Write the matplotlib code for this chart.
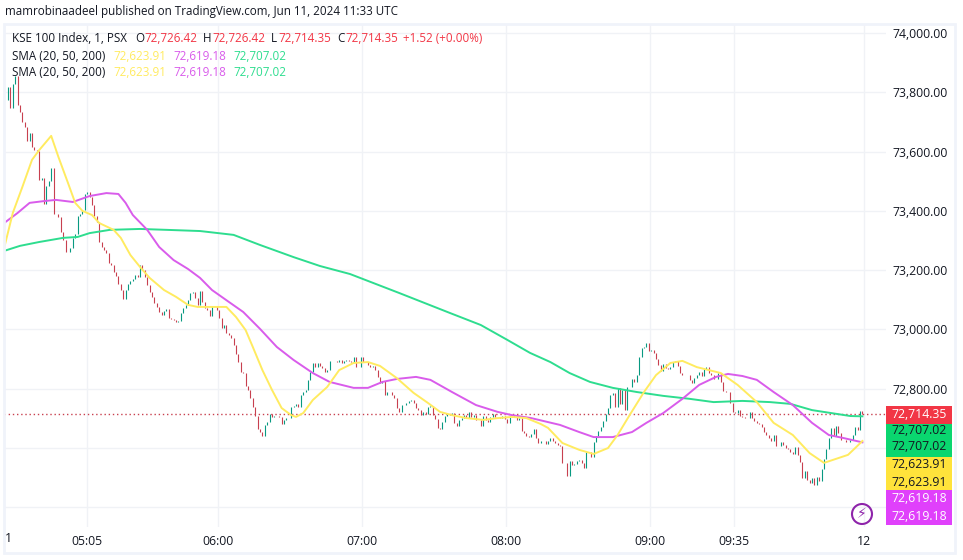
import matplotlib
matplotlib.use('Agg')
import matplotlib.pyplot as plt
from matplotlib.patches import Ellipse, Rectangle
import numpy as np

plt.rcParams['font.family'] = ['Open Sans', 'DejaVu Sans']

# 1 minute closes, minute 0 is the 04:32 open
first_open = 73774
closes = [
    73818, 73747, 73828, 73855, 73757, 73734, 73700, 73683, 73636, 73663, 73615, 73605,
    73602, 73504, 73511, 73423, 73484, 73501, 73545, 73390, 73390, 73379, 73329, 73302,
    73261, 73261, 73275, 73309, 73322, 73383, 73390, 73403, 73457, 73464, 73447, 73420,
    73383, 73363, 73295, 73278, 73268, 73258, 73224, 73217, 73194, 73180, 73153, 73133,
    73103, 73133, 73153, 73164, 73170, 73184, 73177, 73217, 73201, 73177, 73150, 73126,
    73110, 73089, 73076, 73059, 73049, 73062, 73069, 73039, 73035, 73032, 73025, 73029,
    73056, 73072, 73083, 73099, 73123, 73126, 73106, 73083, 73130, 73093, 73072, 73066,
    73045, 73079, 73079, 73066, 73039, 73005, 73015, 72988, 72981, 72971, 72948, 72917,
    72890, 72857, 72853, 72809, 72796, 72769, 72739, 72708, 72664, 72654, 72641, 72678,
    72688, 72715, 72705, 72708, 72708, 72705, 72681, 72695, 72701, 72701, 72739, 72742,
    72749, 72739, 72779, 72789, 72796, 72830, 72857, 72887, 72873, 72887, 72877, 72870,
    72857, 72863, 72894, 72894, 72894, 72890, 72897, 72887, 72894, 72897, 72894, 72890,
    72907, 72873, 72873, 72907, 72890, 72890, 72880, 72873, 72877, 72863, 72840, 72819,
    72826, 72779, 72789, 72789, 72779, 72769, 72735, 72722, 72745, 72745, 72752, 72759,
    72762, 72752, 72735, 72728, 72712, 72722, 72715, 72739, 72742, 72712, 72698, 72668,
    72664, 72688, 72708, 72715, 72712, 72718, 72685, 72674, 72695, 72701, 72712, 72701,
    72722, 72705, 72712, 72695, 72695, 72674, 72708, 72695, 72688, 72705, 72715, 72705,
    72705, 72701, 72708, 72698, 72685, 72708, 72705, 72712, 72695, 72701, 72658, 72651,
    72641, 72637, 72647, 72664, 72634, 72617, 72624, 72624, 72614, 72624, 72634, 72624,
    72617, 72610, 72607, 72550, 72550, 72506, 72556, 72543, 72546, 72556, 72560, 72550,
    72533, 72587, 72587, 72570, 72620, 72641, 72658, 72671, 72691, 72715, 72735, 72779,
    72786, 72739, 72803, 72749, 72796, 72728, 72806, 72806, 72833, 72823, 72846, 72907,
    72938, 72941, 72954, 72927, 72931, 72921, 72900, 72880, 72860, 72884, 72870, 72867,
    72873, 72890, 72894, 72877, 72853, 72846, 72846, 72846, 72830, 72819, 72836, 72846,
    72857, 72843, 72867, 72873, 72853, 72846, 72833, 72833, 72853, 72823, 72792, 72789,
    72789, 72752, 72722, 72718, 72728, 72708, 72705, 72701, 72701, 72722, 72701, 72691,
    72685, 72681, 72671, 72654, 72644, 72634, 72624, 72644, 72607, 72607, 72620, 72610,
    72600, 72597, 72587, 72580, 72604, 72577, 72553, 72499, 72523, 72492, 72482, 72499,
    72475, 72502, 72489, 72529, 72563, 72597, 72634, 72668, 72641, 72675, 72651, 72627,
    72627, 72620, 72620, 72627, 72644, 72671, 72661, 72726.42, 72714.35,
]

sma20_min = [-1.6, 2, 6, 10, 13, 18, 21, 25, 28, 31, 35, 38, 44, 47, 51, 55, 59, 65, 70, 75,
             79, 85, 91, 95, 99, 102, 106, 110, 114, 118, 120, 123, 127, 133, 138, 144, 150,
             155, 162, 169, 175, 180, 185, 191, 198, 204, 210, 216, 222, 225, 231, 238, 244,
             250, 254, 259, 265, 270, 276, 281, 287, 297, 304, 312, 319, 327, 334, 340, 350,
             353, 356]
sma20 = [73275, 73393, 73481, 73572, 73605, 73653, 73582, 73494, 73427, 73400, 73386, 73359,
         73336, 73309, 73251, 73211, 73174, 73133, 73110, 73083, 73076, 73076, 73076, 73042,
         72998, 72941, 72863, 72796, 72735, 72711, 72705, 72718, 72762, 72806, 72863, 72887,
         72890, 72877, 72836, 72786, 72752, 72722, 72711, 72701, 72695, 72701, 72705, 72701,
         72681, 72668, 72617, 72594, 72580, 72600, 72644, 72711, 72789, 72846, 72887, 72894,
         72873, 72853, 72813, 72755, 72685, 72644, 72583, 72550, 72577, 72600, 72623.91]

sma50_min = [-1.6, 4, 9, 15, 20, 27, 34, 41, 46, 49, 52, 58, 63, 69, 75, 80, 85, 92, 98, 105,
             112, 119, 127, 134, 144, 150, 156, 162, 170, 176, 185, 195, 204, 210, 218, 230,
             238, 244, 252, 260, 266, 273, 281, 288, 295, 300, 306, 312, 319, 327, 335, 342,
             348, 356]
sma50 = [73359, 73393, 73427, 73433, 73437, 73430, 73450, 73460, 73457, 73427, 73386, 73336,
         73278, 73234, 73204, 73174, 73133, 73093, 73059, 73002, 72941, 72897, 72853, 72823,
         72803, 72803, 72823, 72833, 72840, 72830, 72789, 72745, 72722, 72711, 72701, 72678,
         72654, 72637, 72637, 72654, 72685, 72718, 72766, 72813, 72840, 72850, 72843, 72830,
         72789, 72745, 72685, 72644, 72634, 72619.18]

sma200_min = [-1.6, 5, 13, 23, 29, 34, 42.5, 55, 66, 80, 94, 105, 119, 130, 142.5, 163, 184,
              197, 208, 217.5, 226, 234, 242.5, 252, 262, 273, 284, 294, 306, 317.5, 326, 335,
              351, 356]
sma200 = [73265, 73282, 73295, 73309, 73312, 73325, 73336, 73339, 73336, 73332, 73319, 73285,
          73244, 73214, 73187, 73123, 73056, 73015, 72965, 72921, 72890, 72853, 72823, 72803,
          72789, 72776, 72766, 72755, 72759, 72755, 72749, 72728, 72708, 72707.02]

time_ticks = [0, 33, 87.5, 147.5, 207.5, 267.5, 302.5, 356.5]
time_labels = ['1', '05:05', '06:00', '07:00', '08:00', '09:00', '09:35', '12']
price_ticks = [72400, 72600, 72800, 73000, 73200, 73400, 73600, 73800, 74000]
price_labels = ['', '', '72,800.00', '73,000.00', '73,200.00', '73,400.00', '73,600.00',
                '73,800.00', '74,000.00']

RED = '#F23645'
TEAL = '#089981'
YELLOW = '#FFEB60'
MAGENTA = '#D95CEB'
GREEN = '#2EDD8F'
TEXT = '#131722'
W, H = 963, 560
LEG = 8.4


def fx(x):
    return x / W


def fy(y):
    return 1 - y / H


fig = plt.figure(figsize=(W / 100, H / 100), dpi=100)
ax = fig.add_axes([fx(4), fy(527), fx(882), 503 / H])

# candles, one thin bar per minute
xs = np.arange(len(closes))
opens = np.r_[first_open, closes[:-1]]
closes_arr = np.array(closes)
bar_colors = [TEAL if c >= o else '#C8404F' for o, c in zip(opens, closes_arr)]
ax.vlines(xs, opens, closes_arr, colors=bar_colors, linewidth=0.8, zorder=3)

ax.plot(sma200_min, sma200, color=GREEN, lw=1.4, zorder=4)
ax.plot(sma50_min, sma50, color=MAGENTA, lw=1.4, zorder=5)
ax.plot(sma20_min, sma20, color=YELLOW, lw=1.4, zorder=6)
ax.axhline(closes[-1], color='#C8404F', lw=1, ls=(0, (1, 2)), zorder=2)

ax.set_xlim(-1.667, 365.83)
ax.set_ylim(72333.7, 74030.3)
ax.set_xticks(time_ticks[1:])
ax.set_xticklabels(time_labels[1:], fontsize=8.8, color=TEXT)
ax.set_yticks(price_ticks)
ax.set_yticklabels(price_labels, fontsize=8.8, color=TEXT)
ax.yaxis.tick_right()
ax.tick_params(axis='both', length=0)
ax.tick_params(axis='y', pad=5)
ax.tick_params(axis='x', pad=6)
ax.grid(True, color='#F0F2F6', lw=1)
ax.set_axisbelow(True)
for s in ax.spines.values():
    s.set_visible(False)
fig.text(fx(8), fy(539), time_labels[0], fontsize=8.8, color=TEXT, ha='center', va='center')

# outer frame
fig.add_artist(Rectangle((fx(4), fy(553)), fx(951), 529 / H, fill=False, ec='#F0F3FA', lw=2))

fig.text(fx(5), fy(12), 'mamrobinaadeel published on TradingView.com, Jun 11, 2024 11:33 UTC',
         fontsize=LEG, color=TEXT, va='center')

# legend rows
row1 = [(12, 'KSE 100 Index, 1, PSX', TEXT), (135, 'O', TEXT), (144, '72,726.42', RED),
        (203, 'H', TEXT), (212, '72,726.42', RED), (271, 'L', TEXT), (278, '72,714.35', RED),
        (337, 'C', TEXT), (345, '72,714.35', RED), (403, '+1.52 (+0.00%)', RED)]
for x, s, c in row1:
    fig.text(fx(x), fy(39), s, fontsize=LEG, color=c, va='center')
for y in (56, 73):
    row = [(12, 'SMA (20, 50, 200)', TEXT), (113, '72,623.91', YELLOW),
           (173, '72,619.18', MAGENTA), (233, '72,707.02', GREEN)]
    for x, s, c in row:
        fig.text(fx(x), fy(y), s, fontsize=LEG, color=c, va='center')

# price scale boxes
boxes = [(406, 424, '#F23645'), (424, 457, '#0AD66F'), (457, 490, '#FFE33B'), (490, 525, '#E040FB')]
for y0, y1, c in boxes:
    fig.add_artist(Rectangle((fx(886), fy(y1)), 66 / W, (y1 - y0) / H, fc=c, ec='none'))
box_labels = [(414, '72,714.35', 'white'), (431, '72,707.02', TEXT), (447, '72,707.02', TEXT),
              (465, '72,623.91', TEXT), (482, '72,623.91', TEXT),
              (498, '72,619.18', 'white'), (516, '72,619.18', 'white')]
for y, s, c in box_labels:
    fig.text(fx(919), fy(y), s, fontsize=8.8, color=c, ha='center', va='center')

# lightning badge
fig.add_artist(Ellipse((fx(862), fy(514)), 20 / W, 20 / H, fill=False, ec='#8E24AA', lw=1.5,
                       transform=fig.transFigure))
fig.text(fx(862), fy(514), '\u26a1', fontsize=10, color='#8E24AA', ha='center', va='center',
         family='DejaVu Sans')

fig.savefig('out.png', dpi=100, facecolor='white')
